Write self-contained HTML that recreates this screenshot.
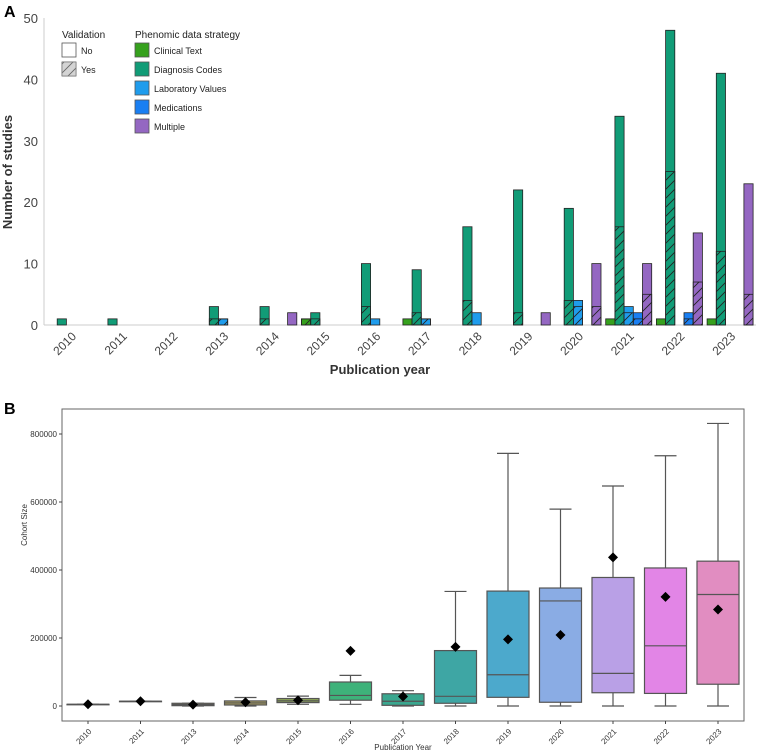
<!DOCTYPE html>
<html><head><meta charset="utf-8"><style>
body{margin:0;background:#fff;width:760px;height:755px;overflow:hidden;font-family:"Liberation Sans","DejaVu Sans",sans-serif}
svg{position:absolute;left:0;top:0}
</style></head><body>
<svg id="c" width="760" height="755" viewBox="0 0 760 755">
<defs>
<pattern id="hatch" patternUnits="userSpaceOnUse" width="9" height="9" patternTransform="rotate(0)">
<path d="M-2,11 L11,-2 M-2,2 L2,-2 M7,11 L11,7" stroke="#222" stroke-width="0.9"/>
</pattern>
</defs>
<text x="4" y="17" font-size="16" font-weight="bold">A</text>
<text x="4" y="414" font-size="16" font-weight="bold">B</text>
<g id="a"></g>
<g id="b"></g>
</svg>
<script>
// Panel A data
const yearsA = ["2010","2011","2012","2013","2014","2015","2016","2017","2018","2019","2020","2021","2022","2023"];
const strategies = ["Clinical Text","Diagnosis Codes","Laboratory Values","Medications","Multiple"];
const totClinical = [0,0,0,0,0,1,0,1,0,0,0,1,1,1];
const totDiag     = [1,1,0,3,3,2,10,9,16,22,19,34,48,41];
const totLab      = [0,0,0,1,0,0,1,1,2,0,4,3,0,0];
const totMed      = [0,0,0,0,0,0,0,0,0,0,0,2,2,0];
const totMult     = [0,0,0,0,2,0,0,0,0,2,10,10,15,23];
const yesClinical = [0,0,0,0,0,1,0,0,0,0,0,0,0,0];
const yesDiag     = [0,0,0,1,1,1,3,2,4,2,4,16,25,12];
const yesLab      = [0,0,0,1,0,0,0,1,0,0,3,2,0,0];
const yesMed      = [0,0,0,0,0,0,0,0,0,0,0,1,1,0];
const yesMult     = [0,0,0,0,0,0,0,0,0,0,3,5,7,5];
const yTicksA = [0,10,20,30,40,50];
// Panel B data
const yearsB = ["2010","2011","2013","2014","2015","2016","2017","2018","2019","2020","2021","2022","2023"];
const whiskLo = [5000,14000,0,0,5000,5000,0,0,0,0,0,0,0];
const q1 =      [5000,14000,1000,3000,10000,17000,2000,8000,25500,11000,39000,37000,64000];
const med =     [5000,14000,4000,9000,15000,31000,14000,28500,92000,309000,96000,177000,328000];
const q3 =      [5000,14000,8000,15000,22000,70600,36000,163000,338000,347000,378000,406000,426000];
const whiskHi = [5000,14000,8000,25000,29000,90000,45000,337000,743000,579000,647000,736000,831000];
const means =   [5000,14000,4000,11000,17000,162000,28000,174000,196000,209000,437000,321000,284000];
const yTicksB = [0,200000,400000,600000,800000];

const NS="http://www.w3.org/2000/svg";
function mk(parent,tag,attrs,text){const e=document.createElementNS(NS,tag);for(const k in attrs)e.setAttribute(k,attrs[k]);if(text!==undefined)e.textContent=text;parent.appendChild(e);return e;}

// ---- Panel A ----
const A=document.getElementById('a');
const ax0=44, ay0=325, ayTop=18;
const yA=v=>ay0-(ay0-ayTop)*v/50;
const xA=i=>71+i*50.7;
const bw=9.2;
const colors=["#36a11d","#119c77","#1f9cec","#1a7ff2","#9467c2"];
const tots=[totClinical,totDiag,totLab,totMed,totMult];
const yess=[yesClinical,yesDiag,yesLab,yesMed,yesMult];
let l=mk(A,'line',{x1:ax0,y1:ayTop,x2:ax0,y2:ay0,stroke:'#ccc'});


l=mk(A,'line',{x1:ax0,y1:ay0,x2:756,y2:ay0,stroke:'#ccc'});


yTicksA.forEach(v=>{const t=mk(A,'text',{x:38,y:yA(v)+5,'font-size':13,'text-anchor':'end',fill:'#444'},v);

});
yearsA.forEach((y,i)=>{const cx=xA(i);
const t=mk(A,'text',{x:cx+6,y:ay0+12,'font-size':12,'text-anchor':'end',fill:'#444',transform:`rotate(-45 ${cx+6} ${ay0+12})`},y);


for(let s=0;s<5;s++){const v=tots[s][i];if(!v)continue;const x=cx-23+s*bw;
const r=mk(A,'rect',{x:x,y:yA(v),width:bw,height:ay0-yA(v),fill:colors[s],stroke:'#222','stroke-width':0.8});


const h=yess[s][i];if(h){const r2=mk(A,'rect',{x:x,y:yA(h),width:bw,height:ay0-yA(h),fill:'url(#hatch)',stroke:'#222','stroke-width':0.8});

}}});
let t=mk(A,'text',{x:12,y:172,'font-size':13,'font-weight':'bold','text-anchor':'middle',fill:'#333',transform:'rotate(-90 12 172)'},'Number of studies');


t=mk(A,'text',{x:380,y:374,'font-size':13,'font-weight':'bold','text-anchor':'middle',fill:'#333'},'Publication year');


// legend
t=mk(A,'text',{x:62,y:38,'font-size':10,fill:'#222'},'Validation');


[["No","#fff"],["Yes","url(#hatch)"]].forEach((d,k)=>{const yy=43+k*19;
const r=mk(A,'rect',{x:62,y:yy,width:14,height:14,fill:d[1],stroke:'#555','stroke-width':0.8});


if(k==1){mk(A,'rect',{x:62,y:yy,width:14,height:14,fill:'#aaa','fill-opacity':0.5,stroke:'none'});}
const tt=mk(A,'text',{x:81,y:yy+11,'font-size':9,fill:'#222'},d[0]);

});
t=mk(A,'text',{x:135,y:38,'font-size':10,fill:'#222'},'Phenomic data strategy');


strategies.forEach((s,k)=>{const yy=43+k*19;
const r=mk(A,'rect',{x:135,y:yy,width:14,height:14,fill:colors[k],stroke:'#555','stroke-width':0.8});


const tt=mk(A,'text',{x:154,y:yy+11,'font-size':9,fill:'#222'},s);

});

// ---- Panel B ----
const B=document.getElementById('b');
const by0=706;
const yB=v=>by0-v*68/200000;
const xB=i=>88+i*52.5;
const boxCol=["#7f8a70","#8a8a68","#8f8a5e","#aaa060","#8fa856","#3eb27a","#3aa78f","#3ea6a4","#4ca9cc","#8aace4","#b9a0e6","#e285e6","#e18dc1"];
let fr=mk(B,'rect',{x:62,y:409,width:682,height:312,fill:'none',stroke:'#666','stroke-width':1});


yTicksB.forEach(v=>{mk(B,'line',{x1:59,x2:62,y1:yB(v),y2:yB(v),stroke:'#444'});
const tt=mk(B,'text',{x:57,y:yB(v)+3,'font-size':8,'text-anchor':'end',fill:'#333'},v);

});
yearsB.forEach((y,i)=>{const cx=xB(i),hw=21,ew=11;
mk(B,'line',{x1:cx,x2:cx,y1:721,y2:724,stroke:'#444'});
const tt=mk(B,'text',{x:cx+4,y:732,'font-size':8,'text-anchor':'end',fill:'#333',transform:`rotate(-45 ${cx+4} 732)`},y);


const g=mk(B,'g',{});


mk(g,'line',{x1:cx,x2:cx,y1:yB(q3[i]),y2:yB(whiskHi[i]),stroke:'#555','stroke-width':1.2});
mk(g,'line',{x1:cx,x2:cx,y1:yB(q1[i]),y2:yB(whiskLo[i]),stroke:'#555','stroke-width':1.2});
mk(g,'line',{x1:cx-ew,x2:cx+ew,y1:yB(whiskHi[i]),y2:yB(whiskHi[i]),stroke:'#555','stroke-width':1.2});
mk(g,'line',{x1:cx-ew,x2:cx+ew,y1:yB(whiskLo[i]),y2:yB(whiskLo[i]),stroke:'#555','stroke-width':1.2});
mk(g,'rect',{x:cx-hw,y:yB(q3[i]),width:2*hw,height:Math.max(yB(q1[i])-yB(q3[i]),0.5),fill:boxCol[i],stroke:'#555','stroke-width':1.2});
mk(g,'line',{x1:cx-hw,x2:cx+hw,y1:yB(med[i]),y2:yB(med[i]),stroke:'#555','stroke-width':1.2});
const m=mk(B,'path',{d:`M${cx},${yB(means[i])-5} L${cx+5},${yB(means[i])} L${cx},${yB(means[i])+5} L${cx-5},${yB(means[i])} Z`,fill:'#000'});

});
t=mk(B,'text',{x:27,y:525,'font-size':8,'text-anchor':'middle',fill:'#333',transform:'rotate(-90 27 525)'},'Cohort Size');


t=mk(B,'text',{x:403,y:750,'font-size':8,'text-anchor':'middle',fill:'#333'},'Publication Year');


</script>
</body></html>
